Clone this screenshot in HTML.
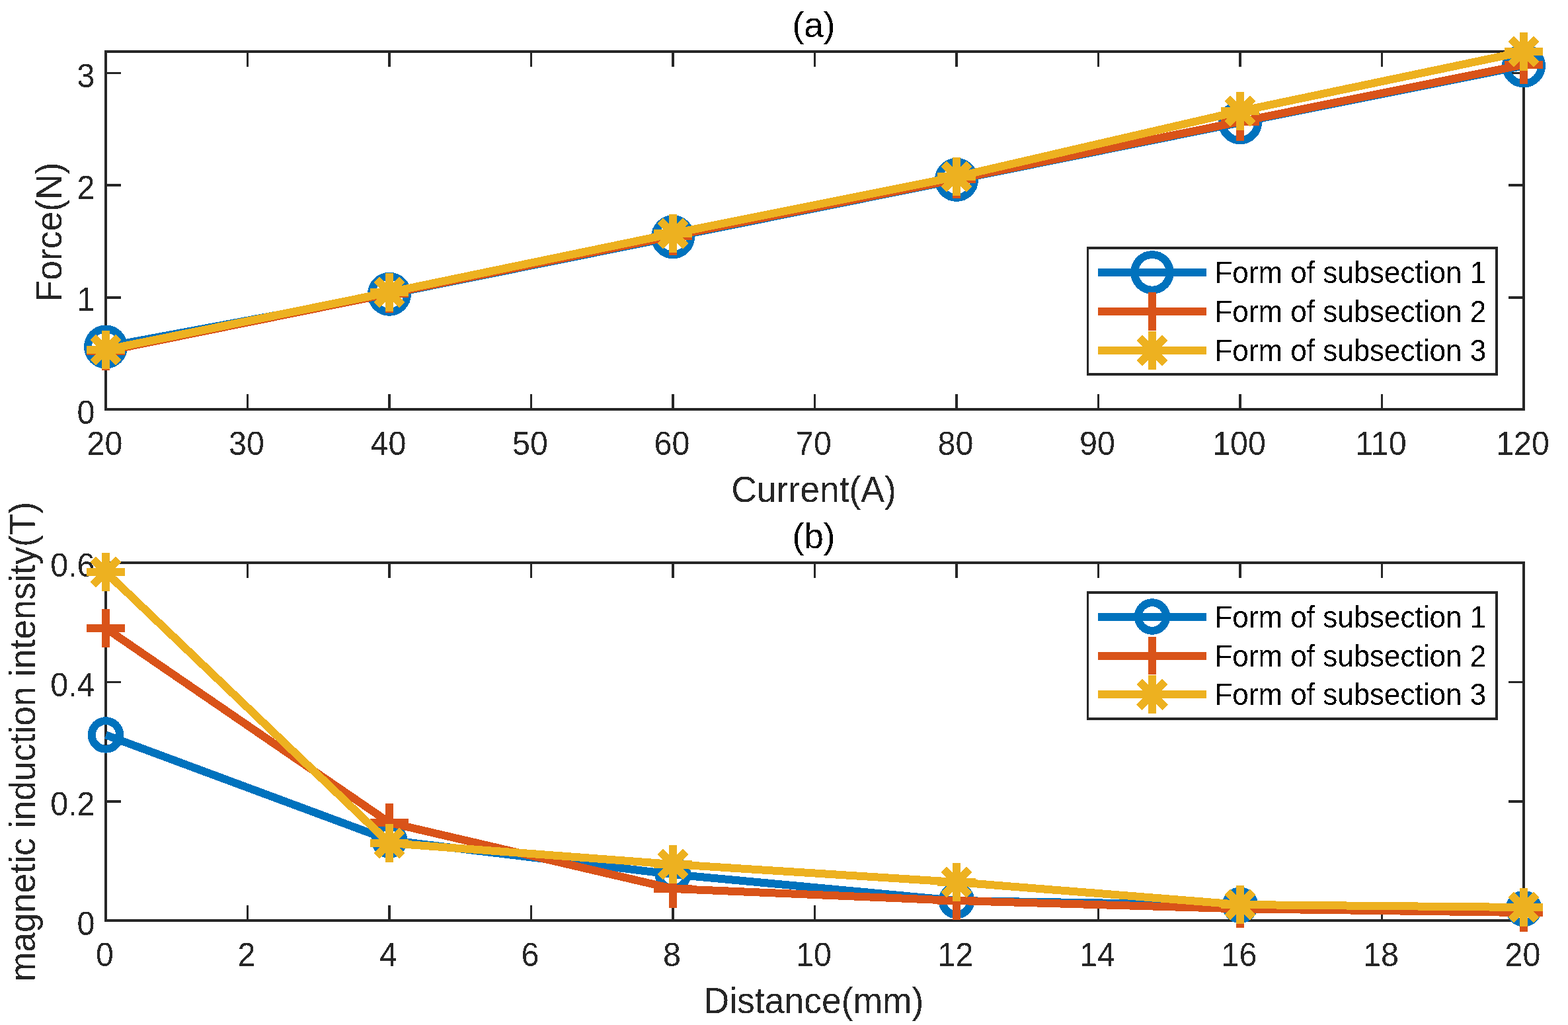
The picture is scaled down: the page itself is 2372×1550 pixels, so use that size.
<!DOCTYPE html>
<html><head><meta charset="utf-8"><title>Force and magnetic induction plots</title>
<style>html,body{margin:0;padding:0;background:#fff;}body{width:2372px;height:1550px;overflow:hidden;}svg{display:block;}text{font-family:"Liberation Sans", Arial, Helvetica, sans-serif;}</style></head><body>
<svg width="2372" height="1550" viewBox="0 0 2372 1550">
<rect x="0" y="0" width="2372" height="1550" fill="#fff"/>
<defs>
<filter id="bin" x="-5%" y="-5%" width="110%" height="110%" color-interpolation-filters="sRGB"><feComponentTransfer><feFuncA type="discrete" tableValues="0 1"/></feComponentTransfer></filter>
<clipPath id="clip0"><rect x="158" y="76" width="2149" height="545"/></clipPath>
<clipPath id="clip1"><rect x="158" y="849" width="2149" height="545"/></clipPath>
</defs>
<g shape-rendering="crispEdges"><path d="M160 619V596M160 78V101M374.5 619V596M374.5 78V101M589 619V596M589 78V101M803.5 619V596M803.5 78V101M1018 619V596M1018 78V101M1232.5 619V596M1232.5 78V101M1447 619V596M1447 78V101M1661.5 619V596M1661.5 78V101M1876 619V596M1876 78V101M2090.5 619V596M2090.5 78V101M2305 619V596M2305 78V101M160 619H183M2305 619H2282M160 450H183M2305 450H2282M160 280H183M2305 280H2282M160 110.5H183M2305 110.5H2282" fill="none" stroke="#262626" stroke-width="3.5"/>
<rect x="160" y="78" width="2145" height="541" fill="none" stroke="#262626" stroke-width="4"/>
<text transform="translate(158.5 688) scale(1 1.035)" text-anchor="middle" font-size="48.4" fill="#262626" filter="url(#bin)">20</text>
<text transform="translate(373 688) scale(1 1.035)" text-anchor="middle" font-size="48.4" fill="#262626" filter="url(#bin)">30</text>
<text transform="translate(587.5 688) scale(1 1.035)" text-anchor="middle" font-size="48.4" fill="#262626" filter="url(#bin)">40</text>
<text transform="translate(802 688) scale(1 1.035)" text-anchor="middle" font-size="48.4" fill="#262626" filter="url(#bin)">50</text>
<text transform="translate(1016.5 688) scale(1 1.035)" text-anchor="middle" font-size="48.4" fill="#262626" filter="url(#bin)">60</text>
<text transform="translate(1231 688) scale(1 1.035)" text-anchor="middle" font-size="48.4" fill="#262626" filter="url(#bin)">70</text>
<text transform="translate(1445.5 688) scale(1 1.035)" text-anchor="middle" font-size="48.4" fill="#262626" filter="url(#bin)">80</text>
<text transform="translate(1660 688) scale(1 1.035)" text-anchor="middle" font-size="48.4" fill="#262626" filter="url(#bin)">90</text>
<text transform="translate(1874.5 688) scale(1 1.035)" text-anchor="middle" font-size="48.4" fill="#262626" filter="url(#bin)">100</text>
<text transform="translate(2089 688) scale(1 1.035)" text-anchor="middle" font-size="48.4" fill="#262626" filter="url(#bin)">110</text>
<text transform="translate(2303.5 688) scale(1 1.035)" text-anchor="middle" font-size="48.4" fill="#262626" filter="url(#bin)">120</text>
<text transform="translate(143.5 641.1) scale(1 1.035)" text-anchor="end" font-size="48.4" fill="#262626" filter="url(#bin)">0</text>
<text transform="translate(143.5 470.3) scale(1 1.035)" text-anchor="end" font-size="48.4" fill="#262626" filter="url(#bin)">1</text>
<text transform="translate(143.5 300.7) scale(1 1.035)" text-anchor="end" font-size="48.4" fill="#262626" filter="url(#bin)">2</text>
<text transform="translate(143.5 131.8) scale(1 1.035)" text-anchor="end" font-size="48.4" fill="#262626" filter="url(#bin)">3</text>
<text transform="translate(1231 759) scale(1 1.03)" text-anchor="middle" font-size="53.5" fill="#262626" filter="url(#bin)">Current(A)</text>
<text transform="translate(93 351) rotate(-90) scale(1 1.03)" text-anchor="middle" font-size="53.5" fill="#262626" filter="url(#bin)">Force(N)</text>
<text transform="translate(1231 55.7)" text-anchor="middle" font-size="53.2" fill="#000" filter="url(#bin)">(a)</text>
<polyline points="160,524.5 589,444.8 1018,358.3 1447,271.9 1876,185.3 2305,99.4" fill="none" stroke="#0072BD" stroke-width="12" stroke-linejoin="miter" clip-path="url(#clip0)"/>
<circle cx="160" cy="524.5" r="27" fill="none" stroke="#0072BD" stroke-width="12"/>
<circle cx="589" cy="444.8" r="27" fill="none" stroke="#0072BD" stroke-width="12"/>
<circle cx="1018" cy="358.3" r="27" fill="none" stroke="#0072BD" stroke-width="12"/>
<circle cx="1447" cy="271.9" r="27" fill="none" stroke="#0072BD" stroke-width="12"/>
<circle cx="1876" cy="185.3" r="27" fill="none" stroke="#0072BD" stroke-width="12"/>
<circle cx="2305" cy="99.4" r="27" fill="none" stroke="#0072BD" stroke-width="12"/>
<polyline points="160,531 589,444 1018,356.8 1447,271 1876,184 2305,97.8" fill="none" stroke="#D95319" stroke-width="12" stroke-linejoin="miter" clip-path="url(#clip0)"/>
<path d="M131.1 531H188.9M160 502.1V559.9" fill="none" stroke="#D95319" stroke-width="12" stroke-linecap="butt"/>
<path d="M560.1 444H617.9M589 415.1V472.9" fill="none" stroke="#D95319" stroke-width="12" stroke-linecap="butt"/>
<path d="M989.1 356.8H1046.9M1018 327.9V385.7" fill="none" stroke="#D95319" stroke-width="12" stroke-linecap="butt"/>
<path d="M1418.1 271H1475.9M1447 242.1V299.9" fill="none" stroke="#D95319" stroke-width="12" stroke-linecap="butt"/>
<path d="M1847.1 184H1904.9M1876 155.1V212.9" fill="none" stroke="#D95319" stroke-width="12" stroke-linecap="butt"/>
<path d="M2276.1 97.8H2333.9M2305 68.9V126.7" fill="none" stroke="#D95319" stroke-width="12" stroke-linecap="butt"/>
<polyline points="160,529 589,442 1018,353.1 1447,267.2 1876,168.1 2305,78.1" fill="none" stroke="#EDB120" stroke-width="12" stroke-linejoin="miter" clip-path="url(#clip0)"/>
<path d="M131.1 529H188.9M160 500.1V557.9M140.6 509.6L179.4 548.4M140.6 548.4L179.4 509.6" fill="none" stroke="#EDB120" stroke-width="12" stroke-linecap="butt"/>
<path d="M560.1 442H617.9M589 413.1V470.9M569.6 422.6L608.4 461.4M569.6 461.4L608.4 422.6" fill="none" stroke="#EDB120" stroke-width="12" stroke-linecap="butt"/>
<path d="M989.1 353.1H1046.9M1018 324.2V382M998.6 333.7L1037.4 372.5M998.6 372.5L1037.4 333.7" fill="none" stroke="#EDB120" stroke-width="12" stroke-linecap="butt"/>
<path d="M1418.1 267.2H1475.9M1447 238.3V296.1M1427.6 247.8L1466.4 286.6M1427.6 286.6L1466.4 247.8" fill="none" stroke="#EDB120" stroke-width="12" stroke-linecap="butt"/>
<path d="M1847.1 168.1H1904.9M1876 139.2V197M1856.6 148.7L1895.4 187.5M1856.6 187.5L1895.4 148.7" fill="none" stroke="#EDB120" stroke-width="12" stroke-linecap="butt"/>
<path d="M2276.1 78.1H2333.9M2305 49.2V107M2285.6 58.7L2324.4 97.5M2285.6 97.5L2324.4 58.7" fill="none" stroke="#EDB120" stroke-width="12" stroke-linecap="butt"/>
<rect x="1645.5" y="375" width="618.5" height="190.8" fill="#fff" stroke="#262626" stroke-width="3.5"/>
<path d="M1661 411.9H1825" stroke="#0072BD" stroke-width="12"/>
<circle cx="1743" cy="411.9" r="26.8" fill="none" stroke="#0072BD" stroke-width="12"/>
<text transform="translate(1837.4 427.9) scale(1 1.03)" font-size="44" fill="#000" filter="url(#bin)">Form of subsection 1</text>
<path d="M1661 470.9H1825" stroke="#D95319" stroke-width="12"/>
<path d="M1714.1 470.9H1771.9M1743 442V499.8" fill="none" stroke="#D95319" stroke-width="12" stroke-linecap="butt"/>
<text transform="translate(1837.4 486.9) scale(1 1.03)" font-size="44" fill="#000" filter="url(#bin)">Form of subsection 2</text>
<path d="M1661 530H1825" stroke="#EDB120" stroke-width="12"/>
<path d="M1714.1 530H1771.9M1743 501.1V558.9M1723.6 510.6L1762.4 549.4M1723.6 549.4L1762.4 510.6" fill="none" stroke="#EDB120" stroke-width="12" stroke-linecap="butt"/>
<text transform="translate(1837.4 546) scale(1 1.03)" font-size="44" fill="#000" filter="url(#bin)">Form of subsection 3</text></g>
<g shape-rendering="crispEdges"><path d="M160 1392V1369M160 851V874M374.5 1392V1369M374.5 851V874M589 1392V1369M589 851V874M803.5 1392V1369M803.5 851V874M1018 1392V1369M1018 851V874M1232.5 1392V1369M1232.5 851V874M1447 1392V1369M1447 851V874M1661.5 1392V1369M1661.5 851V874M1876 1392V1369M1876 851V874M2090.5 1392V1369M2090.5 851V874M2305 1392V1369M2305 851V874M160 1392H183M2305 1392H2282M160 1212H183M2305 1212H2282M160 1031.5H183M2305 1031.5H2282M160 851H183M2305 851H2282" fill="none" stroke="#262626" stroke-width="3.5"/>
<rect x="160" y="851" width="2145" height="541" fill="none" stroke="#262626" stroke-width="4"/>
<text transform="translate(158.5 1461) scale(1 1.035)" text-anchor="middle" font-size="48.4" fill="#262626" filter="url(#bin)">0</text>
<text transform="translate(373 1461) scale(1 1.035)" text-anchor="middle" font-size="48.4" fill="#262626" filter="url(#bin)">2</text>
<text transform="translate(587.5 1461) scale(1 1.035)" text-anchor="middle" font-size="48.4" fill="#262626" filter="url(#bin)">4</text>
<text transform="translate(802 1461) scale(1 1.035)" text-anchor="middle" font-size="48.4" fill="#262626" filter="url(#bin)">6</text>
<text transform="translate(1016.5 1461) scale(1 1.035)" text-anchor="middle" font-size="48.4" fill="#262626" filter="url(#bin)">8</text>
<text transform="translate(1231 1461) scale(1 1.035)" text-anchor="middle" font-size="48.4" fill="#262626" filter="url(#bin)">10</text>
<text transform="translate(1445.5 1461) scale(1 1.035)" text-anchor="middle" font-size="48.4" fill="#262626" filter="url(#bin)">12</text>
<text transform="translate(1660 1461) scale(1 1.035)" text-anchor="middle" font-size="48.4" fill="#262626" filter="url(#bin)">14</text>
<text transform="translate(1874.5 1461) scale(1 1.035)" text-anchor="middle" font-size="48.4" fill="#262626" filter="url(#bin)">16</text>
<text transform="translate(2089 1461) scale(1 1.035)" text-anchor="middle" font-size="48.4" fill="#262626" filter="url(#bin)">18</text>
<text transform="translate(2303.5 1461) scale(1 1.035)" text-anchor="middle" font-size="48.4" fill="#262626" filter="url(#bin)">20</text>
<text transform="translate(143.5 1413.9) scale(1 1.035)" text-anchor="end" font-size="48.4" fill="#262626" filter="url(#bin)">0</text>
<text transform="translate(143.5 1232.8) scale(1 1.035)" text-anchor="end" font-size="48.4" fill="#262626" filter="url(#bin)">0.2</text>
<text transform="translate(143.5 1052.8) scale(1 1.035)" text-anchor="end" font-size="48.4" fill="#262626" filter="url(#bin)">0.4</text>
<text transform="translate(143.5 871.8) scale(1 1.035)" text-anchor="end" font-size="48.4" fill="#262626" filter="url(#bin)">0.6</text>
<text transform="translate(1231 1531.7) scale(1 1.03)" text-anchor="middle" font-size="53.5" fill="#262626" filter="url(#bin)">Distance(mm)</text>
<text transform="translate(52.8 1121.5) rotate(-90) scale(1 1.03)" text-anchor="middle" font-size="53.5" fill="#262626" filter="url(#bin)">magnetic induction intensity(T)</text>
<text transform="translate(1231 828.7)" text-anchor="middle" font-size="53.2" fill="#000" filter="url(#bin)">(b)</text>
<polyline points="160,1111.4 589,1270.5 1018,1322.2 1447,1362 1876,1368.8 2305,1374.1" fill="none" stroke="#0072BD" stroke-width="12" stroke-linejoin="miter" clip-path="url(#clip1)"/>
<circle cx="160" cy="1111.4" r="21.3" fill="none" stroke="#0072BD" stroke-width="12"/>
<circle cx="589" cy="1270.5" r="21.3" fill="none" stroke="#0072BD" stroke-width="12"/>
<circle cx="1018" cy="1322.2" r="21.3" fill="none" stroke="#0072BD" stroke-width="12"/>
<circle cx="1447" cy="1362" r="21.3" fill="none" stroke="#0072BD" stroke-width="12"/>
<circle cx="1876" cy="1368.8" r="21.3" fill="none" stroke="#0072BD" stroke-width="12"/>
<circle cx="2305" cy="1374.1" r="21.3" fill="none" stroke="#0072BD" stroke-width="12"/>
<polyline points="160,950 589,1244 1018,1344 1447,1362 1876,1374.3 2305,1380" fill="none" stroke="#D95319" stroke-width="12" stroke-linejoin="miter" clip-path="url(#clip1)"/>
<path d="M131.1 950H188.9M160 921.1V978.9" fill="none" stroke="#D95319" stroke-width="12" stroke-linecap="butt"/>
<path d="M560.1 1244H617.9M589 1215.1V1272.9" fill="none" stroke="#D95319" stroke-width="12" stroke-linecap="butt"/>
<path d="M989.1 1344H1046.9M1018 1315.1V1372.9" fill="none" stroke="#D95319" stroke-width="12" stroke-linecap="butt"/>
<path d="M1418.1 1362H1475.9M1447 1333.1V1390.9" fill="none" stroke="#D95319" stroke-width="12" stroke-linecap="butt"/>
<path d="M1847.1 1374.3H1904.9M1876 1345.4V1403.2" fill="none" stroke="#D95319" stroke-width="12" stroke-linecap="butt"/>
<path d="M2276.1 1380H2333.9M2305 1351.1V1408.9" fill="none" stroke="#D95319" stroke-width="12" stroke-linecap="butt"/>
<polyline points="160,865 589,1275 1018,1307 1447,1334 1876,1368 2305,1372" fill="none" stroke="#EDB120" stroke-width="12" stroke-linejoin="miter" clip-path="url(#clip1)"/>
<path d="M131.1 865H188.9M160 836.1V893.9M140.6 845.6L179.4 884.4M140.6 884.4L179.4 845.6" fill="none" stroke="#EDB120" stroke-width="12" stroke-linecap="butt"/>
<path d="M560.1 1275H617.9M589 1246.1V1303.9M569.6 1255.6L608.4 1294.4M569.6 1294.4L608.4 1255.6" fill="none" stroke="#EDB120" stroke-width="12" stroke-linecap="butt"/>
<path d="M989.1 1307H1046.9M1018 1278.1V1335.9M998.6 1287.6L1037.4 1326.4M998.6 1326.4L1037.4 1287.6" fill="none" stroke="#EDB120" stroke-width="12" stroke-linecap="butt"/>
<path d="M1418.1 1334H1475.9M1447 1305.1V1362.9M1427.6 1314.6L1466.4 1353.4M1427.6 1353.4L1466.4 1314.6" fill="none" stroke="#EDB120" stroke-width="12" stroke-linecap="butt"/>
<path d="M1847.1 1368H1904.9M1876 1339.1V1396.9M1856.6 1348.6L1895.4 1387.4M1856.6 1387.4L1895.4 1348.6" fill="none" stroke="#EDB120" stroke-width="12" stroke-linecap="butt"/>
<path d="M2276.1 1372H2333.9M2305 1343.1V1400.9M2285.6 1352.6L2324.4 1391.4M2285.6 1391.4L2324.4 1352.6" fill="none" stroke="#EDB120" stroke-width="12" stroke-linecap="butt"/>
<rect x="1645.6" y="895.9" width="618.4" height="191" fill="#fff" stroke="#262626" stroke-width="3.5"/>
<path d="M1661 932.5H1825" stroke="#0072BD" stroke-width="12"/>
<circle cx="1743" cy="932.5" r="21.3" fill="none" stroke="#0072BD" stroke-width="12"/>
<text transform="translate(1837.4 948.5) scale(1 1.03)" font-size="44" fill="#000" filter="url(#bin)">Form of subsection 1</text>
<path d="M1661 991.5H1825" stroke="#D95319" stroke-width="12"/>
<path d="M1714.1 991.5H1771.9M1743 962.6V1020.4" fill="none" stroke="#D95319" stroke-width="12" stroke-linecap="butt"/>
<text transform="translate(1837.4 1007.5) scale(1 1.03)" font-size="44" fill="#000" filter="url(#bin)">Form of subsection 2</text>
<path d="M1661 1050.3H1825" stroke="#EDB120" stroke-width="12"/>
<path d="M1714.1 1050.3H1771.9M1743 1021.4V1079.2M1723.6 1030.9L1762.4 1069.7M1723.6 1069.7L1762.4 1030.9" fill="none" stroke="#EDB120" stroke-width="12" stroke-linecap="butt"/>
<text transform="translate(1837.4 1066.3) scale(1 1.03)" font-size="44" fill="#000" filter="url(#bin)">Form of subsection 3</text></g>
</svg></body></html>
